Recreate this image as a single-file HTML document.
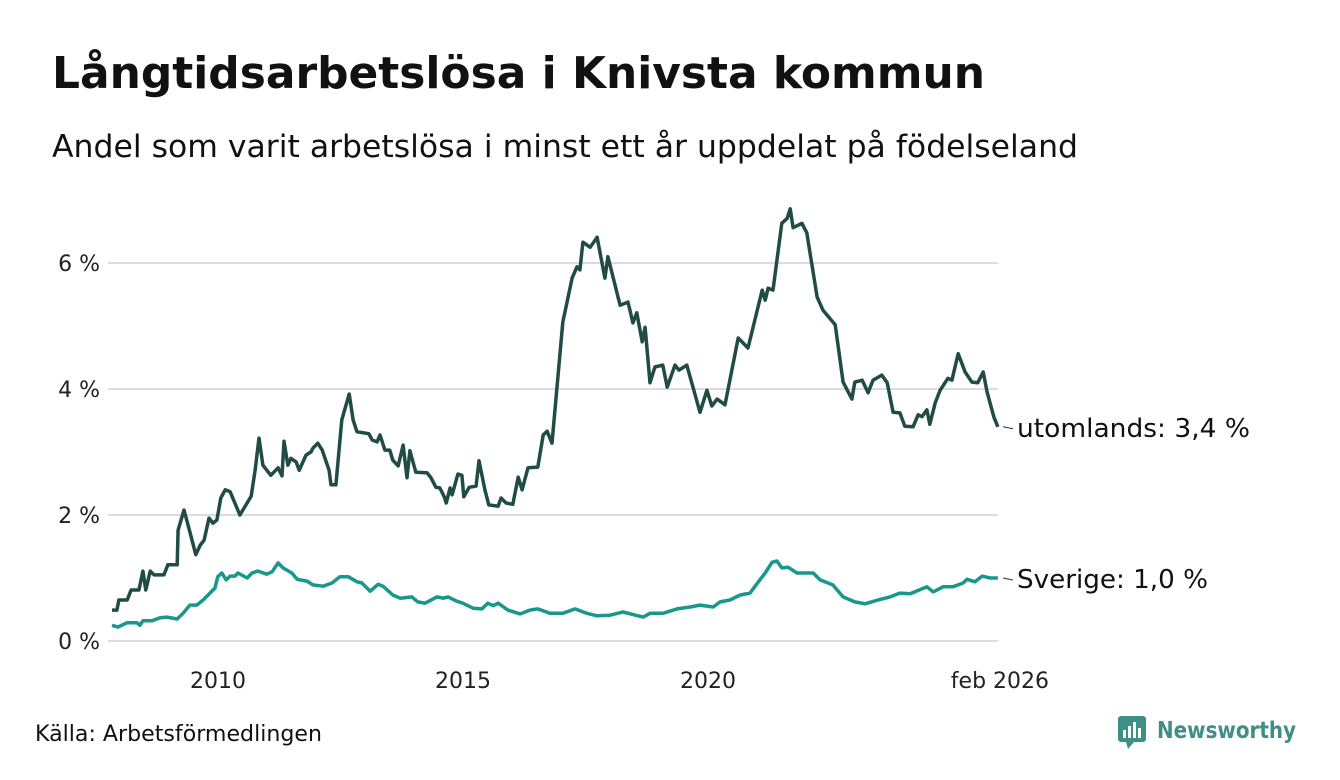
<!DOCTYPE html>
<html><head><meta charset="utf-8"><style>
body{margin:0;background:#fff;font-family:"Liberation Sans","DejaVu Sans",sans-serif;}
#wrap{position:relative;width:1340px;height:780px;overflow:hidden;background:#fff}
</style></head><body>
<div id="wrap">
<svg id="svg" width="1340" height="780">
<text x="52" y="88" font-size="44" font-weight="bold" fill="#111" font-family="DejaVu Sans, sans-serif" textLength="933" lengthAdjust="spacingAndGlyphs">Långtidsarbetslösa i Knivsta kommun</text>
<text x="52" y="157" font-size="31" fill="#111" font-family="DejaVu Sans, sans-serif" textLength="1026" lengthAdjust="spacingAndGlyphs">Andel som varit arbetslösa i minst ett år uppdelat på födelseland</text>
<g id="grid"></g><g id="xt"></g><g id="lines"></g>
<text x="35" y="741" font-size="22" fill="#111" font-family="DejaVu Sans, sans-serif" textLength="287" lengthAdjust="spacingAndGlyphs">Källa: Arbetsförmedlingen</text>
<g>
<rect x="1118" y="716" width="28" height="26" rx="3" fill="#3f8f86"/>
<rect x="1123" y="730" width="3" height="8" fill="#fff"/><rect x="1128" y="726" width="3" height="12" fill="#fff"/><rect x="1133" y="722" width="3" height="16" fill="#fff"/><rect x="1138" y="728" width="3" height="10" fill="#fff"/>
<polygon points="1126,742 1134,742 1128,749" fill="#3f8f86"/>
<text x="1157" y="738" font-size="23" font-weight="bold" fill="#3f8f86" font-family="DejaVu Sans, sans-serif" textLength="139" lengthAdjust="spacingAndGlyphs">Newsworthy</text>
</g>
</svg>
</div>
<script>
const yTicks=[0,2,4,6];
const yTickLabels=["0 %","2 %","4 %","6 %"];
const xTicks=[2010,2015,2020,2026.08];
const xTickLabels=["2010","2015","2020","feb 2026"];
const yrsU=[0,.10,.14,.31,.39,.55,.63,.69,.78,.86,1.06,1.14,1.33,1.35,1.47,1.57,1.71,1.80,1.88,1.98,2.06,2.14,2.22,2.31,2.41,2.61,2.84,2.92,3.00,3.08,3.24,3.39,3.47,3.51,3.59,3.65,3.76,3.82,3.96,4.06,4.10,4.20,4.29,4.43,4.47,4.57,4.69,4.84,4.92,5.00,5.24,5.31,5.41,5.47,5.57,5.67,5.73,5.84,5.94,6.02,6.08,6.20,6.43,6.51,6.61,6.69,6.78,6.82,6.90,6.94,7.06,7.14,7.18,7.29,7.43,7.49,7.61,7.69,7.88,7.94,8.04,8.18,8.29,8.37,8.49,8.69,8.80,8.88,8.98,9.20,9.39,9.49,9.55,9.61,9.76,9.90,10.06,10.12,10.37,10.53,10.63,10.71,10.82,10.88,10.98,11.08,11.24,11.33,11.49,11.57,11.73,12.00,12.14,12.24,12.35,12.51,12.78,12.98,13.27,13.33,13.39,13.49,13.67,13.78,13.84,13.90,14.08,14.18,14.39,14.51,14.76,14.92,15.10,15.16,15.31,15.43,15.53,15.71,15.82,15.94,16.08,16.18,16.35,16.45,16.53,16.63,16.69,16.80,16.90,17.06,17.14,17.27,17.41,17.55,17.67,17.78,17.86,18.00,18.08];
const valsU=[.49,.49,.65,.65,.81,.81,1.11,.81,1.11,1.05,1.05,1.21,1.21,1.76,2.08,1.79,1.37,1.52,1.60,1.95,1.87,1.92,2.27,2.40,2.37,2.00,2.30,2.71,3.22,2.79,2.63,2.75,2.62,3.17,2.79,2.90,2.84,2.71,2.95,3.00,3.06,3.14,3.03,2.71,2.48,2.48,3.51,3.92,3.51,3.32,3.29,3.19,3.16,3.27,3.03,3.03,2.87,2.78,3.11,2.59,3.02,2.68,2.67,2.59,2.44,2.43,2.29,2.19,2.43,2.32,2.65,2.63,2.29,2.44,2.46,2.86,2.40,2.16,2.14,2.27,2.19,2.17,2.60,2.40,2.75,2.76,3.27,3.33,3.14,5.06,5.76,5.94,5.89,6.33,6.25,6.41,5.76,6.10,5.33,5.38,5.05,5.21,4.75,4.98,4.10,4.35,4.38,4.03,4.38,4.30,4.38,3.63,3.98,3.73,3.84,3.75,4.81,4.65,5.57,5.41,5.60,5.57,6.63,6.71,6.86,6.56,6.63,6.48,5.46,5.25,5.02,4.11,3.84,4.11,4.14,3.94,4.14,4.22,4.10,3.63,3.62,3.41,3.40,3.59,3.56,3.67,3.44,3.78,3.98,4.17,4.14,4.56,4.27,4.11,4.10,4.27,3.95,3.55,3.4];
const yrsS=[0,.12,.31,.51,.57,.63,.82,.98,1.12,1.33,1.45,1.59,1.73,1.86,2.10,2.16,2.24,2.33,2.41,2.51,2.57,2.76,2.86,2.98,3.16,3.27,3.39,3.49,3.67,3.78,3.98,4.10,4.31,4.49,4.65,4.82,5.00,5.10,5.27,5.43,5.53,5.73,5.88,6.12,6.24,6.39,6.63,6.76,6.86,7.04,7.16,7.37,7.55,7.67,7.78,7.88,8.08,8.33,8.53,8.69,8.94,9.20,9.45,9.69,9.90,10.16,10.43,10.84,10.98,11.24,11.53,11.80,12.00,12.27,12.41,12.61,12.82,13.02,13.22,13.33,13.47,13.57,13.67,13.80,13.98,14.18,14.31,14.45,14.71,14.92,15.16,15.37,15.63,15.88,16.08,16.29,16.63,16.76,16.96,17.16,17.37,17.45,17.61,17.76,17.92,18.08];
const valsS=[.25,.22,.29,.29,.25,.32,.32,.37,.38,.35,.44,.57,.57,.65,.84,1.02,1.08,.97,1.03,1.03,1.08,1.00,1.08,1.11,1.06,1.10,1.24,1.16,1.08,.98,.95,.89,.87,.92,1.02,1.02,.94,.92,.79,.90,.87,.73,.68,.70,.62,.60,.70,.68,.70,.63,.60,.52,.51,.60,.56,.60,.49,.43,.49,.51,.44,.44,.51,.44,.40,.41,.46,.38,.44,.44,.51,.54,.57,.54,.62,.65,.73,.76,.97,1.08,1.25,1.27,1.16,1.17,1.08,1.08,1.08,.97,.89,.70,.62,.59,.65,.70,.76,.75,.86,.78,.86,.86,.92,.98,.94,1.03,1.00,1.00];
const seriesLabels=["utomlands: 3,4 %","Sverige: 1,0 %"];
const NS="http://www.w3.org/2000/svg";
const X=t=>112+(t-2008)*49;
const Y=v=>641-v*63;
function mk(tag,attrs,parent){const e=document.createElementNS(NS,tag);for(const k in attrs)e.setAttribute(k,attrs[k]);parent.appendChild(e);return e;}
const grid=document.getElementById('grid');
yTicks.forEach((v,i)=>{
 const l=mk('line',{x1:108,x2:998,y1:Y(v),y2:Y(v),stroke:'#dcdce0','stroke-width':2},grid);
 
 
 const t=mk('text',{x:100,y:Y(v)+8,'text-anchor':'end','font-size':22,fill:'#222','font-family':'DejaVu Sans, sans-serif'},grid);
 t.textContent=yTickLabels[i];
 
 
});
const xt=document.getElementById('xt');
xTicks.forEach((v,i)=>{
 const t=mk('text',{x:X(v)+(i==3?2:8),y:688,'text-anchor':'middle','font-size':22,fill:'#222','font-family':'DejaVu Sans, sans-serif'},xt);
 t.textContent=xTickLabels[i];
 
 
});
const lines=document.getElementById('lines');
function draw(yrs,vals,col,name,label,w){
 const d=yrs.map((t,i)=>(i?'L':'M')+X(2008+t).toFixed(1)+','+Y(vals[i]).toFixed(1)).join('');
 const p=mk('path',{d:d,fill:'none',stroke:col,'stroke-width':3.5,'stroke-linejoin':'round'},lines);
 
 
 const ly=Y(vals[vals.length-1]);
 mk('line',{x1:1003,x2:1013,y1:ly,y2:ly+2,stroke:'#333','stroke-width':1},lines);
 const t=mk('text',{x:1017,y:ly+10,'font-size':26,fill:'#111','font-family':'DejaVu Sans, sans-serif',textLength:w,lengthAdjust:'spacingAndGlyphs'},lines);
 t.textContent=label;
 
 
}
draw(yrsU,valsU,'#214b45','line-utomlands',seriesLabels[0],233);
draw(yrsS,valsS,'#17988b','line-sverige',seriesLabels[1],191);
</script>
</body></html>
